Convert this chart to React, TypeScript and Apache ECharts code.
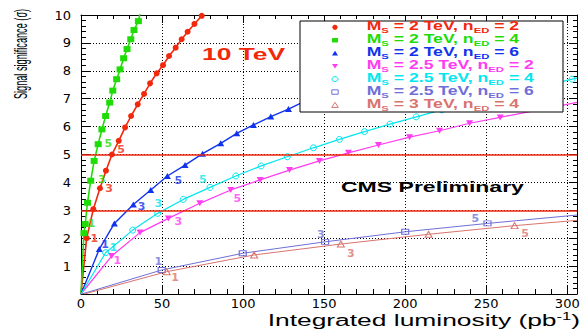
import React, { useEffect, useRef } from "react";
import * as echarts from "echarts";

// Axis ranges
const X_MIN = 0;
const X_MAX = 306;
const X_STEP = 50;
const Y_MIN = 0;
const Y_MAX = 10;
const Y_STEP = 1;

// Discovery thresholds (sigma)
const THRESHOLDS = [3, 5];

// Integrated luminosity (pb^-1), significance (sigma)
const MS2_NED2: [number, number][] = [
  [0, 0], [3.5, 2.0], [7.6, 3.04], [11.7, 3.79], [15.4, 4.42], [19.1, 5.0],
  [23.3, 5.49], [27.2, 5.97], [30.9, 6.38], [35, 6.8], [38.9, 7.17],
  [42.6, 7.55], [46.7, 7.91], [50.6, 8.2], [54.3, 8.53], [58.4, 8.83],
  [62.1, 9.13], [65.8, 9.4], [70, 9.68], [74.5, 9.97],
];
const MS2_NED4: [number, number][] = [
  [0, 0], [1.8, 2.18], [2.6, 2.51], [4.0, 3.27], [6.0, 4.06], [8.1, 4.77],
  [10.6, 5.37], [12.9, 5.9], [15.2, 6.38], [17.7, 6.86], [19.6, 7.29],
  [22, 7.7], [24.1, 8.05], [26.3, 8.45], [28.4, 8.78], [30.7, 9.13],
  [32.7, 9.46], [35.4, 9.78], [36.4, 10.05],
];
const MS2_NED6: [number, number][] = [
  [0, 0], [11.3, 1.61], [20.6, 2.53], [32.3, 3.21], [43, 3.73], [53.3, 4.23],
  [64.2, 4.62], [75, 5.03], [86.2, 5.4], [96.1, 5.76], [106.4, 6.06],
  [117.1, 6.36], [128, 6.63], [138.5, 6.92],
];
const MS25_NED2: [number, number][] = [
  [0, 0], [18.9, 1.36], [36.4, 2.2], [53.9, 2.71], [73.3, 3.25], [92.4, 3.73],
  [110.5, 4.09], [128.6, 4.44], [147.1, 4.77], [165, 5.06], [183.5, 5.34],
  [202.7, 5.62], [221.2, 5.85], [239.7, 6.12], [258.6, 6.33], [306, 6.87],
];
const MS25_NED4: [number, number][] = [
  [0, 0], [15.2, 1.48], [31.9, 2.29], [47.3, 2.89], [63.1, 3.39], [79.6, 3.82],
  [95.5, 4.23], [111.1, 4.59], [127.3, 4.92], [143.4, 5.24], [159.4, 5.54],
  [174.9, 5.82], [190.7, 6.09], [206.8, 6.35], [222.5, 6.6], [303, 7.7],
  [306, 7.74],
];
const MS25_NED6: [number, number][] = [
  [0.5, 0], [49.8, 0.86], [99.8, 1.46], [150.6, 1.87], [200, 2.23],
  [250.8, 2.53], [306, 2.83],
];
const MS3_NED4: [number, number][] = [
  [2, 0], [52.9, 0.8], [106.8, 1.4], [160.3, 1.79], [214.4, 2.14],
  [267.5, 2.45], [306, 2.64],
];

// Luminosity markers written next to each curve: [text, luminosity, sigma]
const MS2_NED2_TAGS: [string, number, number][] = [["1", 8.2, 2.0], ["3", 17.3, 3.79], ["5", 24.7, 5.19]];
const MS2_NED4_TAGS: [string, number, number][] = [["1", 6.6, 2.51], ["3", 12.8, 4.11], ["5", 16.9, 5.38]];
const MS2_NED6_TAGS: [string, number, number][] = [["1", 14.8, 1.76], ["3", 37.4, 3.15], ["5", 60.1, 4.06]];
const MS25_NED4_TAGS: [string, number, number][] = [["1", 19.9, 1.68], ["3", 47.7, 3.23], ["5", 75.1, 4.11]];
const MS25_NED2_TAGS: [string, number, number][] = [["1", 22.4, 1.2], ["3", 60.1, 2.59], ["5", 96.5, 3.43]];
const MS25_NED6_TAGS: [string, number, number][] = [["1", 47.7, 1.16], ["3", 148, 2.15], ["5", 243.2, 2.71]];
const MS3_NED4_TAGS: [string, number, number][] = [["1", 58, 0.6], ["3", 166.5, 1.46], ["5", 274, 2.18]];

const RED = "#f2280c";
const GREEN = "#1fdc06";
const BLUE = "#1133ee";
const MAGENTA = "#ff3cf0";
const CYAN = "#05e6ee";
const VIOLET = "#6f6fd8";
const ROSE = "#d9736e";

type Marker = "dot" | "square" | "up" | "down" | "ring" | "box" | "hollowUp";

interface Curve {
  ms: string;
  ned: string;
  color: string;
  data: [number, number][];
  tags: [string, number, number][];
  marker: Marker;
  width: number;
  openEnd: boolean;
}

const CURVES: Curve[] = [
  { ms: "2", ned: "2", color: RED, data: MS2_NED2, tags: MS2_NED2_TAGS, marker: "dot", width: 1.6, openEnd: false },
  { ms: "2", ned: "4", color: GREEN, data: MS2_NED4, tags: MS2_NED4_TAGS, marker: "square", width: 1.6, openEnd: true },
  { ms: "2", ned: "6", color: BLUE, data: MS2_NED6, tags: MS2_NED6_TAGS, marker: "up", width: 1.4, openEnd: false },
  { ms: "2.5", ned: "2", color: MAGENTA, data: MS25_NED2, tags: MS25_NED2_TAGS, marker: "down", width: 1.2, openEnd: true },
  { ms: "2.5", ned: "4", color: CYAN, data: MS25_NED4, tags: MS25_NED4_TAGS, marker: "ring", width: 1.2, openEnd: true },
  { ms: "2.5", ned: "6", color: VIOLET, data: MS25_NED6, tags: MS25_NED6_TAGS, marker: "box", width: 1, openEnd: true },
  { ms: "3", ned: "4", color: ROSE, data: MS3_NED4, tags: MS3_NED4_TAGS, marker: "hollowUp", width: 1, openEnd: true },
];

const FONT = "Liberation Sans";

function seriesSymbol(m: Marker): { symbol: string; size: number | number[]; open: boolean } {
  switch (m) {
    case "dot": return { symbol: "circle", size: 6, open: false };
    case "square": return { symbol: "rect", size: [7, 6], open: false };
    case "up": return { symbol: "triangle", size: [7, 6], open: false };
    case "down": return { symbol: "path://M0,0 L10,0 L5,9 Z", size: [7, 6], open: false };
    case "ring": return { symbol: "circle", size: 6, open: true };
    case "box": return { symbol: "rect", size: [7, 5], open: true };
    default: return { symbol: "triangle", size: [7, 6], open: true };
  }
}

function legendMarker(m: Marker, cx: number, cy: number, color: string): any {
  const z = 101;
  const solid = { fill: color };
  const hollow = { fill: "none", stroke: color, lineWidth: 1 };
  switch (m) {
    case "dot":
      return { type: "circle", z, shape: { cx, cy, r: 2.6 }, style: solid };
    case "square":
      return { type: "rect", z, shape: { x: cx - 3, y: cy - 2.2, width: 6, height: 4.4 }, style: solid };
    case "up":
      return { type: "polygon", z, shape: { points: [[cx - 3, cy + 2.2], [cx + 3, cy + 2.2], [cx, cy - 2.4]] }, style: solid };
    case "down":
      return { type: "polygon", z, shape: { points: [[cx - 3, cy - 2.2], [cx + 3, cy - 2.2], [cx, cy + 2.4]] }, style: solid };
    case "ring":
      return { type: "ellipse", z, shape: { cx, cy, rx: 3, ry: 2.4 }, style: hollow };
    case "box":
      return { type: "rect", z, shape: { x: cx - 3.2, y: cy - 2.2, width: 6.4, height: 4.4 }, style: hollow };
    default:
      return { type: "polygon", z, shape: { points: [[cx - 3.3, cy + 2.4], [cx + 3.3, cy + 2.4], [cx, cy - 2.6]] }, style: hollow };
  }
}

export default function App() {
  const ref = useRef<HTMLDivElement>(null);

  useEffect(() => {
    if (!ref.current) return;
    const chart = echarts.init(ref.current, undefined, { renderer: "svg" });

    const lineSeries = CURVES.map((c, idx) => {
      const sym = seriesSymbol(c.marker);
      const last = c.data.length - 1;
      const data = c.data.map((p, i) =>
        i === 0 || (c.openEnd && i === last) ? { value: p, symbol: "none" } : { value: p }
      );
      const s: any = {
        type: "line",
        xAxisIndex: 0,
        yAxisIndex: 0,
        data,
        symbol: sym.symbol,
        symbolSize: sym.size,
        showAllSymbol: true,
        lineStyle: { color: c.color, width: c.width },
        itemStyle: sym.open
          ? { color: "rgba(0,0,0,0)", borderColor: c.color, borderWidth: 1 }
          : { color: c.color, borderWidth: 0 },
        emphasis: { disabled: true },
        z: 3,
      };
      if (idx === 0) {
        s.markLine = {
          silent: true,
          symbol: ["none", "none"],
          label: { show: false },
          lineStyle: { color: RED, width: 1.5, type: "solid" },
          data: THRESHOLDS.map((v) => ({ yAxis: v })),
        };
      }
      return s;
    });

    const tagSeries = {
      type: "scatter",
      xAxisIndex: 0,
      yAxisIndex: 0,
      symbol: "circle",
      symbolSize: 1,
      itemStyle: { color: "rgba(0,0,0,0)" },
      emphasis: { disabled: true },
      z: 5,
      data: CURVES.flatMap((c) =>
        c.tags.map(([t, x, y]) => ({
          value: [x, y, t],
          label: { color: c.color },
        }))
      ),
      label: {
        show: true,
        position: "inside",
        formatter: (p: any) => p.value[2],
        fontFamily: "DejaVu Sans",
        fontWeight: "bold",
        fontSize: 11,
      },
    };

    // Legend box drawn in the upper right corner
    const legendX = 300;
    const legendY = 21;
    const legendW = 263;
    const legendH = 91;
    const row0 = 27.3;
    const rowStep = 12.95;
    const main = (color: string) => ({
      fontFamily: FONT, fontWeight: "bold", fontSize: 12.5, lineHeight: 14,
      verticalAlign: "top", fill: color,
    });
    const sub = (color: string) => ({
      fontFamily: FONT, fontWeight: "bold", fontSize: 8, lineHeight: 9,
      padding: [7, 0, 0, 0], verticalAlign: "top", fill: color,
    });

    const legendItems: any[] = [
      {
        type: "rect", z: 100,
        shape: { x: legendX, y: legendY, width: legendW, height: legendH },
        style: { fill: "#fff", stroke: "#000", lineWidth: 1 },
      },
    ];
    CURVES.forEach((c, i) => {
      const cy = row0 + i * rowStep;
      legendItems.push(legendMarker(c.marker, 335, cy, c.color));
      legendItems.push({
        type: "text", z: 101,
        x: 366.7, y: cy - 8, scaleX: 1.41,
        style: {
          text: `{m|M}{s|S}{m| = ${c.ms} TeV, n}{s|ED}{m| = ${c.ned}}`,
          align: "left",
          verticalAlign: "top",
          fill: c.color,
          rich: { m: main(c.color), s: sub(c.color) },
        },
      });
    });

    const texts: any[] = [
      {
        type: "text", z: 100, x: 202, y: 54.5, scaleX: 1.65,
        style: {
          text: "10 TeV", fill: RED, fontFamily: FONT, fontWeight: "bold",
          fontSize: 16, align: "left", verticalAlign: "middle",
        },
      },
      {
        type: "text", z: 100, x: 341, y: 187, scaleX: 1.535,
        style: {
          text: "CMS Preliminary", fill: "#000", fontFamily: FONT, fontWeight: "bold",
          fontSize: 15, align: "left", verticalAlign: "middle",
        },
      },
      {
        type: "text", z: 100, x: 580, y: 312, scaleX: 1.65,
        style: {
          text: "{m|Integrated luminosity (pb}{sup|-1}{m|)}",
          align: "right",
          verticalAlign: "top",
          fill: "#000",
          rich: {
            m: { fontFamily: FONT, fontSize: 16, lineHeight: 18, verticalAlign: "top", fill: "#000" },
            sup: { fontFamily: FONT, fontSize: 10, lineHeight: 10, verticalAlign: "top", fill: "#000" },
          },
        },
      },
      {
        type: "text", z: 100, x: 21, y: 54, rotation: Math.PI / 2,
        scaleX: 0.655, scaleY: 1.32,
        style: {
          text: "Signal significance (σ)", fill: "#000", fontFamily: FONT,
          fontSize: 14, align: "center", verticalAlign: "middle",
        },
      },
    ];

    const frameLine = { show: true, onZero: false, lineStyle: { color: "#000", width: 1 } };
    const tickStyle = { color: "#000", width: 1 };

    chart.setOption({
      animation: false,
      backgroundColor: "#fff",
      grid: {
        left: 81, right: 7, top: 15, bottom: 37,
        containLabel: false, outerBoundsMode: "none",
      },
      xAxis: [
        {
          type: "value", min: X_MIN, max: X_MAX, interval: X_STEP, position: "bottom",
          axisLine: frameLine,
          axisTick: { show: true, inside: true, length: 9, lineStyle: tickStyle },
          minorTick: { show: true, splitNumber: 5, length: 5, lineStyle: tickStyle },
          splitLine: { show: true, lineStyle: { color: "#000", width: 1, type: [1, 2] } },
          axisLabel: {
            margin: 3, fontFamily: "DejaVu Sans", fontSize: 13, color: "#000",
            formatter: (v: number) => (v % X_STEP === 0 ? String(v) : ""),
          },
        },
        {
          type: "value", min: X_MIN, max: X_MAX, interval: X_STEP, position: "top",
          axisLine: frameLine,
          axisTick: { show: true, inside: true, length: 8, lineStyle: tickStyle },
          minorTick: { show: true, splitNumber: 5, length: 4, lineStyle: tickStyle },
          splitLine: { show: false },
          axisLabel: { show: false },
        },
      ],
      yAxis: [
        {
          type: "value", min: Y_MIN, max: Y_MAX, interval: Y_STEP, position: "left",
          axisLine: frameLine,
          axisTick: { show: true, inside: true, length: 9, lineStyle: tickStyle },
          minorTick: { show: true, splitNumber: 5, length: 5, lineStyle: tickStyle },
          splitLine: { show: true, lineStyle: { color: "#000", width: 1, type: [1, 2] } },
          axisLabel: {
            margin: 10, fontFamily: "DejaVu Sans", fontSize: 13, color: "#000",
            formatter: (v: number) => (v === 0 ? "" : String(v)),
          },
        },
        {
          type: "value", min: Y_MIN, max: Y_MAX, interval: Y_STEP, position: "right",
          axisLine: frameLine,
          axisTick: { show: true, inside: true, length: 8, lineStyle: tickStyle },
          minorTick: { show: true, splitNumber: 5, length: 4, lineStyle: tickStyle },
          splitLine: { show: false },
          axisLabel: { show: false },
        },
      ],
      series: [...lineSeries, tagSeries],
      graphic: [...legendItems, ...texts],
    });

    return () => chart.dispose();
  }, []);

  return (
    <div
      ref={ref}
      style={{ position: "fixed", left: 0, top: 0, width: 584, height: 331, background: "#fff" }}
    />
  );
}
